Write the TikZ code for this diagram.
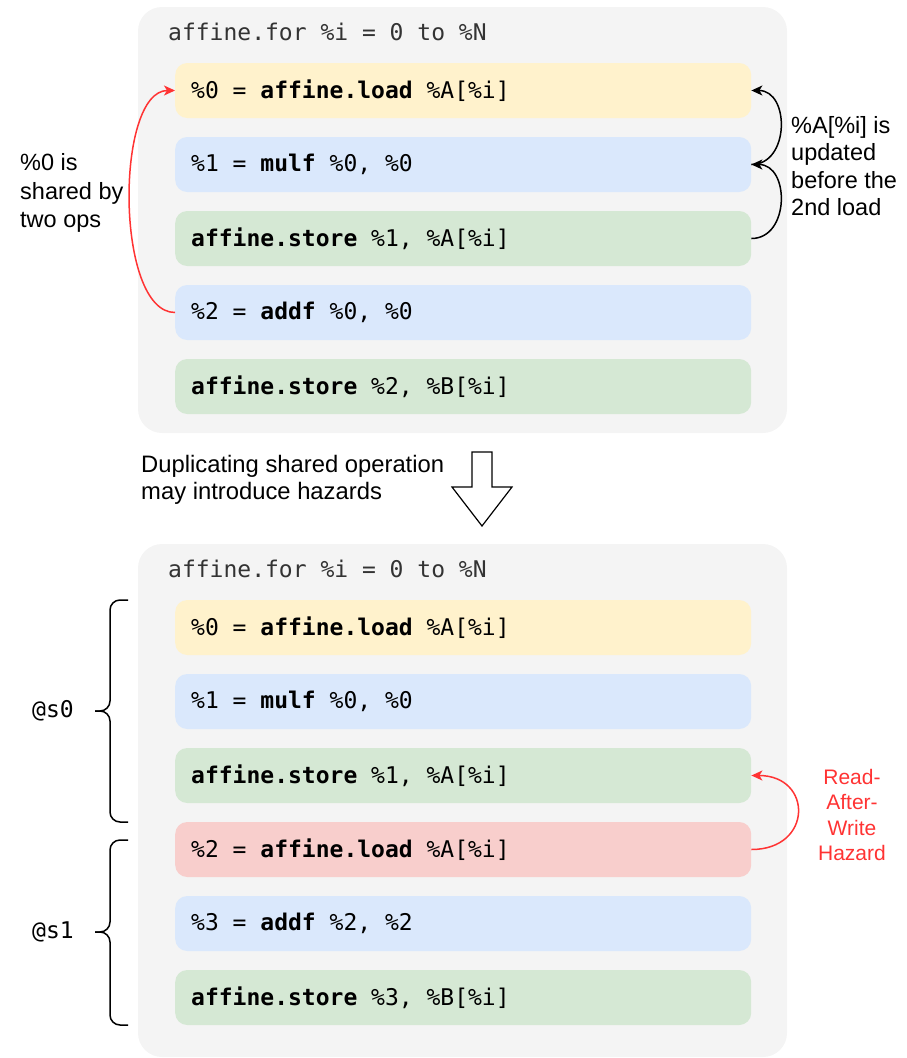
\documentclass[tikz,border=0pt]{standalone}
\usepackage{fontspec}
\setmainfont{Liberation Sans}
\setmonofont{DejaVu Sans Mono}
\usetikzlibrary{arrows.meta}

\definecolor{panel}{HTML}{F4F4F4}
\definecolor{loadc}{HTML}{FFF2CC}
\definecolor{mathc}{HTML}{DAE8FC}
\definecolor{storec}{HTML}{D5E8D4}
\definecolor{hazc}{HTML}{F8CECC}
\definecolor{alert}{HTML}{FF3333}
\definecolor{hdr}{HTML}{333333}

% one line of IR, left-aligned inside a fixed-width row
\newcommand{\irline}[1]{\makebox[544pt][l]{#1}}

\begin{document}
\begin{tikzpicture}[x=1pt,y=-1pt,
  panelbox/.style={fill=panel, rounded corners=24pt},
  op/.style={anchor=west, rounded corners=12pt, minimum height=55pt,
    inner xsep=16pt, inner ysep=0pt,
    font=\fontsize{23}{26}\selectfont\ttfamily},
  loadop/.style={op, fill=loadc},
  mathop/.style={op, fill=mathc},
  storeop/.style={op, fill=storec},
  hazop/.style={op, fill=hazc},
  header/.style={anchor=west, inner sep=0pt, text=hdr,
    font=\fontsize{23}{26}\selectfont\ttfamily},
  stage/.style={anchor=west, inner sep=0pt,
    font=\fontsize{23}{26}\selectfont\ttfamily},
  note/.style={inner sep=0pt, font=\fontsize{23.5}{28.5}\selectfont},
  dep/.style={line width=1.5pt, -{Stealth[length=11pt,width=10pt,inset=3pt]}},
  hazard/.style={dep, draw=alert},
  bracket/.style={line width=1.5pt, rounded corners=10pt},
]
\useasboundingbox (0,0) rectangle (907,1058);

% ---- loop before duplication ----
\fill[panelbox] (138,7) rectangle (787,433);
\node[header] (h1) at (168,32) {affine.for \%i = 0 to \%N};

\node[loadop]  (t1) at (175,90.5)  {\irline{\%0 = \textbf{affine.load} \%A[\%i]}};
\node[mathop]  (t2) at (175,164.5) {\irline{\%1 = \textbf{mulf} \%0, \%0}};
\node[storeop] (t3) at (175,238.5) {\irline{\textbf{affine.store} \%1, \%A[\%i]}};
\node[mathop]  (t4) at (175,312.5) {\irline{\%2 = \textbf{addf} \%0, \%0}};
\node[storeop] (t5) at (175,386.5) {\irline{\textbf{affine.store} \%2, \%B[\%i]}};

\draw[hazard] (t4.west) .. controls (115,312.5) and (115,90.5) .. (t1.west);
\draw[dep] (t3.east) .. controls (790,238.5) and (790,164.5) .. (t2.east);
\draw[dep] (t2.east) .. controls (790,164.5) and (790,90.5) .. (t1.east);

\node[note, anchor=west, align=left] (shared) at (20,193)
  {\%0 is\\shared by\\two ops};
\node[note, anchor=west, align=left, font=\fontsize{23.5}{27.5}\selectfont] (upd) at (791,166)
  {\%A[\%i] is\\updated\\before the\\2nd load};

% ---- transformation arrow ----
\node[note, anchor=west, align=left, font=\fontsize{23.8}{26.5}\selectfont] (dup) at (141,480)
  {Duplicating shared operation\\may introduce hazards};
\draw[line width=1.2pt, fill=white]
  (472,452) -- (492,452) -- (492,487) -- (512,487) -- (482,526)
  -- (452,487) -- (472,487) -- cycle;

% ---- loop after duplication ----
\fill[panelbox] (138,544) rectangle (787,1057);
\node[header] (h2) at (168,569) {affine.for \%i = 0 to \%N};

\node[loadop]  (b1) at (175,627.5) {\irline{\%0 = \textbf{affine.load} \%A[\%i]}};
\node[mathop]  (b2) at (175,701.5) {\irline{\%1 = \textbf{mulf} \%0, \%0}};
\node[storeop] (b3) at (175,775.5) {\irline{\textbf{affine.store} \%1, \%A[\%i]}};
\node[hazop]   (b4) at (175,849.5) {\irline{\%2 = \textbf{affine.load} \%A[\%i]}};
\node[mathop]  (b5) at (175,923.5) {\irline{\%3 = \textbf{addf} \%2, \%2}};
\node[storeop] (b6) at (175,997.5) {\irline{\textbf{affine.store} \%3, \%B[\%i]}};

\draw[hazard] (b4.east) .. controls (813,849.5) and (813,775.5) .. (b3.east);
\node[note, text=alert, align=center, font=\fontsize{21}{25.5}\selectfont] (raw) at (852,815)
  {Read-\\After-\\Write\\Hazard};

% stage brackets
\draw[bracket] (128,600) -- (110,600) -- (110,711) -- (95,711);
\draw[bracket] (95,711) -- (110,711) -- (110,822) -- (128,822);
\draw[bracket] (128,840) -- (110,840) -- (110,932) -- (95,932);
\draw[bracket] (95,932) -- (110,932) -- (110,1025) -- (128,1025);
\node[stage] (s0) at (32,711) {@s0};
\node[stage] (s1) at (32,932) {@s1};
\end{tikzpicture}
\end{document}
